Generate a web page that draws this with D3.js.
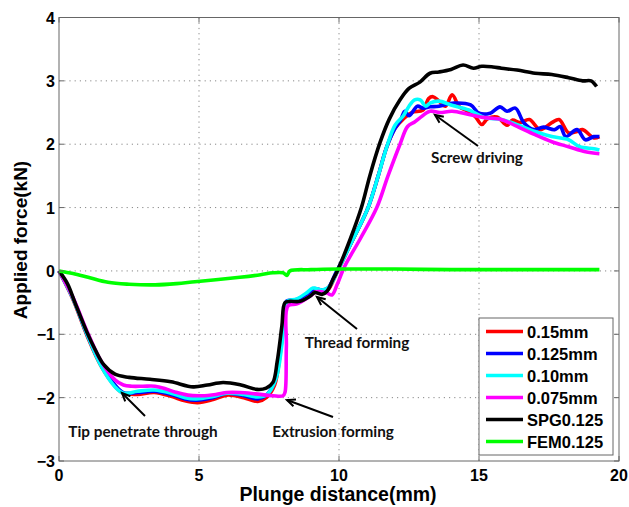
<!DOCTYPE html>
<html><head><meta charset="utf-8">
<script src="https://cdn.jsdelivr.net/npm/d3@7"></script>
<style>body{margin:0;background:#fff}</style>
</head><body><svg id="c" width="629" height="507"></svg>
<script>
const xTicks = [0,5,10,15,20];
const yTicks = [-3,-2,-1,0,1,2,3,4];
const seriesNames = ["0.15mm","0.125mm","0.10mm","0.075mm","SPG0.125","FEM0.125"];
const seriesColors = ["#ff0000","#0000ff","#00ffff","#ff00ff","#000000","#00ff00"];

const redX = [0,0.5,1.0,1.5,2.0,2.3,2.8,3.4,4.0,4.5,4.95,5.5,6.0,6.6,7.1,7.4,7.7,7.9,8.05,8.12,8.5,8.9,9.1,9.4,9.6,9.9,10.5,11.04,11.4,11.7,12.0,12.3,12.6,13.0,13.2,13.36,13.57,13.8,14.04,14.3,14.6,14.86,15.1,15.3,15.64,16.0,16.2,16.46,16.8,17.18,17.6,17.86,18.2,18.5,18.7,19.1,19.3];
const redY = [0,-0.45,-1.02,-1.5,-1.82,-1.93,-1.95,-1.92,-1.98,-2.05,-2.08,-2.03,-1.96,-2.0,-2.06,-2.0,-1.8,-1.3,-0.7,-0.5,-0.46,-0.38,-0.3,-0.32,-0.3,-0.05,0.5,1.0,1.5,1.95,2.25,2.4,2.5,2.54,2.72,2.75,2.68,2.6,2.78,2.59,2.52,2.44,2.31,2.40,2.43,2.3,2.38,2.34,2.39,2.23,2.34,2.39,2.18,2.2,2.23,2.10,2.12];

const blueX = [0,0.5,1.0,1.5,2.0,2.3,2.8,3.4,4.0,4.5,4.9,5.5,6.0,6.6,7.1,7.4,7.7,7.9,8.05,8.12,8.5,8.9,9.1,9.4,9.6,9.9,10.5,11.04,11.4,11.7,12.0,12.2,12.35,12.5,12.8,13.0,13.25,13.57,14.1,14.7,15.0,15.4,15.75,16.0,16.3,16.6,16.96,17.3,17.7,17.9,18.1,18.5,18.8,19.1,19.3];
const blueY = [0,-0.43,-1.0,-1.48,-1.8,-1.92,-1.92,-1.9,-1.95,-2.02,-2.04,-2.0,-1.93,-1.97,-2.02,-1.96,-1.75,-1.25,-0.65,-0.48,-0.45,-0.36,-0.28,-0.3,-0.27,-0.02,0.5,1.0,1.5,1.95,2.25,2.38,2.52,2.45,2.6,2.57,2.59,2.6,2.65,2.62,2.49,2.49,2.59,2.52,2.57,2.34,2.23,2.27,2.23,2.28,2.12,2.23,2.07,2.12,2.12];

const cyanX = [0,0.5,1.0,1.5,2.0,2.3,2.8,3.4,4.0,4.5,4.9,5.5,6.0,6.6,7.1,7.43,7.75,7.95,8.08,8.15,8.5,8.86,9.07,9.4,9.65,9.95,10.5,11.04,11.4,11.7,12.0,12.3,12.5,12.7,12.9,13.1,13.25,13.57,14.0,14.64,15.2,15.8,16.36,17.0,17.6,18.2,18.6,19.1,19.3];
const cyanY = [0,-0.44,-1.0,-1.5,-1.83,-1.93,-1.9,-1.88,-1.93,-2.0,-2.02,-1.98,-1.93,-1.95,-1.99,-1.95,-1.7,-1.2,-0.6,-0.48,-0.44,-0.34,-0.27,-0.3,-0.25,0.0,0.5,1.0,1.5,1.95,2.3,2.45,2.6,2.7,2.70,2.6,2.65,2.68,2.62,2.54,2.42,2.39,2.31,2.20,2.12,2.07,1.96,1.93,1.91];

const magX = [0,0.5,1.0,1.5,2.0,2.3,2.6,3.0,3.43,3.8,4.14,4.6,5.1,5.6,6.0,6.46,7.0,7.64,8.0,8.07,8.12,8.18,8.5,8.96,9.2,9.57,9.75,9.93,10.2,10.75,11.35,11.75,12.18,12.45,12.7,12.9,13.25,13.6,14.04,14.64,15.2,15.8,16.36,17.0,17.6,18.2,18.8,19.3];
const magY = [0,-0.42,-0.95,-1.42,-1.72,-1.8,-1.82,-1.82,-1.82,-1.86,-1.91,-1.96,-1.97,-1.95,-1.92,-1.92,-1.94,-1.97,-1.97,-1.92,-1.2,-0.55,-0.52,-0.40,-0.33,-0.35,-0.38,-0.22,0.07,0.5,1.0,1.5,2.0,2.28,2.35,2.42,2.52,2.5,2.52,2.47,2.42,2.39,2.28,2.15,2.04,1.96,1.88,1.85];

const blackX = [0,0.3,0.57,1.0,1.29,1.6,2.0,2.5,3.25,4.0,4.79,5.3,5.86,6.5,7.07,7.4,7.64,7.79,7.96,8.07,8.25,8.6,8.96,9.14,9.39,9.57,9.79,9.96,10.4,10.8,11.1,11.46,11.8,12.18,12.5,12.89,13.25,13.57,14.0,14.43,14.8,15.1,15.5,15.8,16.36,17.0,17.6,18.2,18.7,19.0,19.2];
const blackY = [0,-0.2,-0.5,-0.97,-1.24,-1.48,-1.63,-1.68,-1.71,-1.75,-1.83,-1.80,-1.76,-1.80,-1.87,-1.85,-1.76,-1.44,-0.87,-0.5,-0.48,-0.48,-0.40,-0.34,-0.37,-0.32,-0.13,0.02,0.5,1.0,1.5,2.02,2.4,2.70,2.88,2.98,3.12,3.14,3.18,3.25,3.2,3.23,3.22,3.2,3.17,3.12,3.10,3.05,3.0,3.0,2.91];

const greenX = [0,0.5,1.04,1.75,2.5,3.43,4.2,4.86,5.6,6.46,7.2,7.64,8.0,8.14,8.25,9,10,12,14,16,18,19.3];
const greenY = [0,-0.04,-0.1,-0.18,-0.21,-0.22,-0.2,-0.17,-0.14,-0.1,-0.06,-0.03,-0.03,-0.07,0.0,0.02,0.03,0.03,0.02,0.02,0.02,0.02];

const allX = [redX,blueX,cyanX,magX,blackX,greenX];
const allY = [redY,blueY,cyanY,magY,blackY,greenY];

const svg = d3.select("#c");
const L=59, R=619, T=17.5, B=461;
const x = d3.scaleLinear().domain([0,20]).range([L,R]);
const y = d3.scaleLinear().domain([-3,4]).range([B,T]);
const fmt = d => d<0 ? "\u2212"+Math.abs(d) : String(d);

// grid
const g = svg.append("g");
g.selectAll(".gx").data(xTicks.slice(1,-1)).enter().append("line")
 .attr("x1",d=>x(d)).attr("x2",d=>x(d)).attr("y1",T).attr("y2",B)
 .attr("stroke","#888").attr("stroke-dasharray","1.2,4").attr("stroke-width",1);
g.selectAll(".gy").data(yTicks.slice(1,-1)).enter().append("line")
 .attr("y1",d=>y(d)).attr("y2",d=>y(d)).attr("x1",L).attr("x2",R)
 .attr("stroke","#888").attr("stroke-dasharray","1.2,4").attr("stroke-width",1);

// lines
const line = d3.line().x(d=>x(d[0])).y(d=>y(d[1])).curve(d3.curveCatmullRom.alpha(0.5));
allX.forEach((xs,i)=>{
  const pts = xs.map((v,j)=>[v,allY[i][j]]);
  svg.append("path").attr("d",line(pts)).attr("fill","none")
    .attr("stroke",seriesColors[i]).attr("stroke-width",3.6).attr("stroke-linejoin","round");
});

// axes
const ax = svg.append("g").attr("stroke","#666").attr("stroke-width",1);
ax.append("rect").attr("x",L).attr("y",T).attr("width",R-L).attr("height",B-T).attr("fill","none");
const tl = 5;
xTicks.forEach(d=>{
  ax.append("line").attr("x1",x(d)).attr("x2",x(d)).attr("y1",B).attr("y2",B-tl);
  ax.append("line").attr("x1",x(d)).attr("x2",x(d)).attr("y1",T).attr("y2",T+tl);
});
yTicks.forEach(d=>{
  ax.append("line").attr("y1",y(d)).attr("y2",y(d)).attr("x1",L).attr("x2",L+tl);
  ax.append("line").attr("y1",y(d)).attr("y2",y(d)).attr("x1",R).attr("x2",R-tl);
});
const tf = "'Liberation Sans', Arial, sans-serif";
svg.selectAll(".xt").data(xTicks).enter().append("text")
 .attr("x",d=>x(d)).attr("y",B+20).attr("text-anchor","middle")
 .attr("font-family",tf).attr("font-weight","bold").attr("font-size",16).text(fmt);
svg.selectAll(".yt").data(yTicks).enter().append("text")
 .attr("x",L-4).attr("y",d=>y(d)+6).attr("text-anchor","end")
 .attr("font-family",tf).attr("font-weight","bold").attr("font-size",16).text(fmt);

svg.append("text").attr("x",338).attr("y",501).attr("text-anchor","middle")
 .attr("font-family",tf).attr("font-weight","bold").attr("font-size",19.5).text("Plunge distance(mm)");
svg.append("text").attr("transform","translate(27,240) rotate(-90)").attr("text-anchor","middle")
 .attr("font-family",tf).attr("font-weight","bold").attr("font-size",19).text("Applied force(kN)");

// annotations
const af = "Lato, 'Open Sans', sans-serif";
const notes = [
 {t:"Tip penetrate through", tx:143, ty:437, x1:145, y1:416, x2:122, y2:393},
 {t:"Extrusion forming", tx:333, ty:437, x1:333, y1:417, x2:287, y2:400},
 {t:"Thread forming", tx:357, ty:348, x1:357, y1:329, x2:317, y2:297},
 {t:"Screw driving", tx:477, ty:163, x1:478, y1:146, x2:435, y2:115}
];
notes.forEach(n=>{
  svg.append("line").attr("x1",n.x1).attr("y1",n.y1).attr("x2",n.x2).attr("y2",n.y2)
    .attr("stroke","#000").attr("stroke-width",2);
  const ang = Math.atan2(n.y2-n.y1,n.x2-n.x1), len=9, w=0.42;
  const p1=[n.x2-len*Math.cos(ang-w), n.y2-len*Math.sin(ang-w)];
  const p2=[n.x2-len*Math.cos(ang+w), n.y2-len*Math.sin(ang+w)];
  svg.append("path").attr("d",`M${p1}L${n.x2},${n.y2}L${p2}`).attr("fill","none")
    .attr("stroke","#000").attr("stroke-width",2);
  svg.append("text").attr("x",n.tx).attr("y",n.ty).attr("text-anchor","middle")
    .attr("font-family",af).attr("font-weight","bold").attr("font-size",15.3).attr("fill","#111").text(n.t);
});

// legend
const lg = svg.append("g");
lg.append("rect").attr("x",479).attr("y",318).attr("width",134).attr("height",137)
  .attr("fill","#fff").attr("stroke","#666").attr("stroke-width",1);
seriesNames.forEach((nm,i)=>{
  const yy = 331.5 + i*22;
  lg.append("line").attr("x1",486).attr("x2",523).attr("y1",yy).attr("y2",yy)
    .attr("stroke",seriesColors[i]).attr("stroke-width",3.6);
  lg.append("text").attr("x",527).attr("y",yy+6).attr("font-family",tf)
    .attr("font-weight","bold").attr("font-size",16.5).text(nm);
});
</script></body></html>
